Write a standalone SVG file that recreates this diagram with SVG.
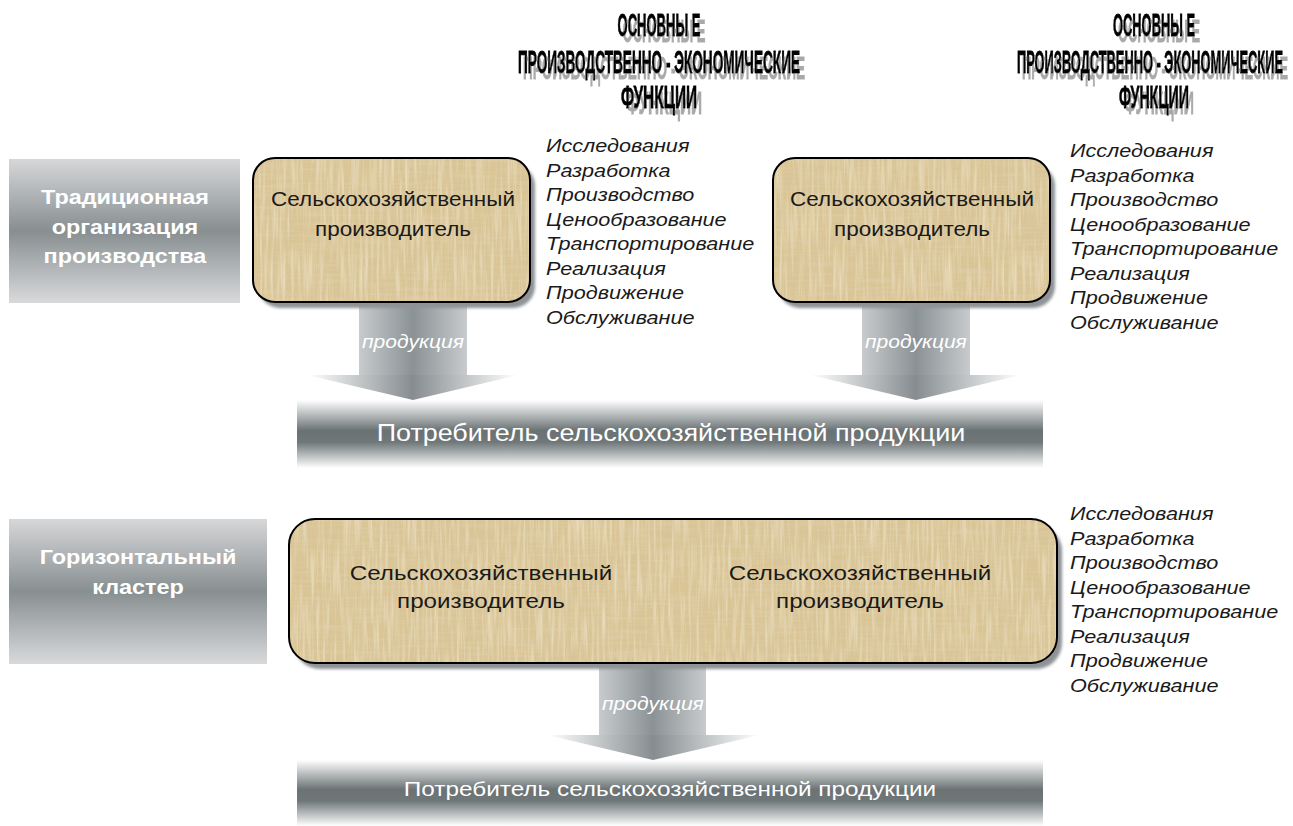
<svg xmlns="http://www.w3.org/2000/svg" width="1293" height="826" viewBox="0 0 1293 826">
  <style>
    text { font-family: "Liberation Sans", Arial, sans-serif; }
    .label { font-size: 20px; font-weight: bold; fill: #ffffff; text-anchor: middle; }
    .prod { font-size: 20px; fill: #1a1a1a; text-anchor: middle; }
    .func { font-size: 18.5px; font-style: italic; fill: #1a1a1a; }
    .flow { font-size: 18px; font-style: italic; fill: #ffffff; text-anchor: middle; }
    .cons { fill: #ffffff; text-anchor: middle; }
    .head { font-size: 32px; font-weight: bold; fill: #000000; stroke: #000000; stroke-width: 0.8; text-anchor: middle; }
    .wide { transform-box: fill-box; transform-origin: center; transform: scaleX(1.17); }
    .wide-s { transform-box: fill-box; transform-origin: center; transform: scaleX(1.125); }
    .wide-l { transform-box: fill-box; transform-origin: center; transform: scaleX(1.21); }
    .card { fill: url(#paper); stroke: #000000; stroke-width: 2; }
    .cardShadow { fill: #8f9396; filter: url(#soft); }
  </style>
  <defs>
    <linearGradient id="labelGrad" x1="0" y1="0" x2="0" y2="1">
      <stop offset="0" stop-color="#d6d7d9"/>
      <stop offset="0.5" stop-color="#888f91"/>
      <stop offset="1" stop-color="#d8d9db"/>
    </linearGradient>
    <linearGradient id="barGrad" x1="0" y1="0" x2="0" y2="1">
      <stop offset="0" stop-color="#ffffff"/>
      <stop offset="0.45" stop-color="#6a7274"/>
      <stop offset="0.62" stop-color="#6f7779"/>
      <stop offset="1" stop-color="#ffffff"/>
    </linearGradient>
    <linearGradient id="shaftGrad" x1="0" y1="0" x2="1" y2="0">
      <stop offset="0" stop-color="#c8cbcd"/>
      <stop offset="0.5" stop-color="#8b9295"/>
      <stop offset="1" stop-color="#c8cbcd"/>
    </linearGradient>
    <linearGradient id="headGrad" x1="0" y1="0" x2="1" y2="0">
      <stop offset="0" stop-color="#ffffff"/>
      <stop offset="0.5" stop-color="#868d90"/>
      <stop offset="1" stop-color="#ffffff"/>
    </linearGradient>
    <!-- woven papyrus fibres: vertical and horizontal streaks -->
    <filter id="fibresV" x="0" y="0" width="100%" height="100%">
      <feTurbulence type="fractalNoise" baseFrequency="0.35 0.02" numOctaves="2" seed="3" result="n"/>
      <feColorMatrix in="n" type="matrix" values="0 0 0 0 0.93  0 0 0 0 0.87  0 0 0 0 0.72  0 0 0 1.6 -0.7"/>
    </filter>
    <filter id="fibresH" x="0" y="0" width="100%" height="100%">
      <feTurbulence type="fractalNoise" baseFrequency="0.02 0.35" numOctaves="2" seed="11" result="n"/>
      <feColorMatrix in="n" type="matrix" values="0 0 0 0 0.74  0 0 0 0 0.65  0 0 0 0 0.45  0 0 0 1.5 -0.62"/>
    </filter>
    <pattern id="paper" patternUnits="userSpaceOnUse" width="1293" height="826">
      <rect width="1293" height="826" fill="#d9c495"/>
      <rect width="1293" height="826" filter="url(#fibresV)" opacity="0.8"/>
      <rect width="1293" height="826" filter="url(#fibresH)" opacity="0.7"/>
    </pattern>
    <filter id="soft" x="-10%" y="-10%" width="120%" height="120%">
      <feGaussianBlur stdDeviation="1.5"/>
    </filter>
    <filter id="headShadow" x="-5%" y="-20%" width="115%" height="160%">
      <feOffset in="SourceAlpha" dx="5" dy="6" result="o"/>
      <feFlood flood-color="#a9a9a9"/>
      <feComposite in2="o" operator="in" result="s"/>
      <feMerge>
        <feMergeNode in="s"/>
        <feMergeNode in="SourceGraphic"/>
      </feMerge>
    </filter>
  </defs>

  <!-- section titles -->
  <g id="title-1" filter="url(#headShadow)">
    <text class="head" x="659" y="36" textLength="83" lengthAdjust="spacingAndGlyphs">ОСНОВНЫ Е</text>
    <text class="head" x="659" y="73" textLength="282" lengthAdjust="spacingAndGlyphs">ПРОИЗВОДСТВЕННО - ЭКОНОМИЧЕСКИЕ</text>
    <text class="head" x="659" y="108" textLength="76" lengthAdjust="spacingAndGlyphs">ФУНКЦИИ</text>
  </g>
  <g id="title-2" filter="url(#headShadow)">
    <text class="head" x="1154" y="36" textLength="82" lengthAdjust="spacingAndGlyphs">ОСНОВНЫ Е</text>
    <text class="head" x="1150" y="73" textLength="266" lengthAdjust="spacingAndGlyphs">ПРОИЗВОДСТВЕННО - ЭКОНОМИЧЕСКИЕ</text>
    <text class="head" x="1154" y="108" textLength="70" lengthAdjust="spacingAndGlyphs">ФУНКЦИИ</text>
  </g>

  <!-- row labels -->
  <g id="label-traditional">
    <rect x="9" y="159" width="231" height="144" fill="url(#labelGrad)"/>
    <text class="label wide" x="125" y="204">Традиционная</text>
    <text class="label wide" x="125" y="234">организация</text>
    <text class="label wide" x="125" y="263">производства</text>
  </g>
  <g id="label-cluster">
    <rect x="9" y="519" width="258" height="145" fill="url(#labelGrad)"/>
    <text class="label wide" x="138" y="564">Горизонтальный</text>
    <text class="label wide" x="138" y="594">кластер</text>
  </g>

  <!-- product flows -->
  <g id="connectors">
    <g id="flow-1">
      <rect x="359" y="300" width="108" height="76" fill="url(#shaftGrad)"/>
      <polygon points="307,375 518,375 413,400" fill="url(#headGrad)"/>
      <text class="flow wide" x="413" y="348">продукция</text>
    </g>
    <g id="flow-2">
      <rect x="862" y="300" width="108" height="76" fill="url(#shaftGrad)"/>
      <polygon points="810,375 1021,375 916,400" fill="url(#headGrad)"/>
      <text class="flow wide" x="916" y="348">продукция</text>
    </g>
    <g id="flow-3">
      <rect x="599" y="660" width="107" height="76" fill="url(#shaftGrad)"/>
      <polygon points="547,735 760,735 653,760" fill="url(#headGrad)"/>
      <text class="flow wide" x="653" y="710">продукция</text>
    </g>
  </g>

  <!-- producers, traditional organisation -->
  <g id="producer-1">
    <rect class="cardShadow" x="258" y="164" width="277" height="144" rx="22"/>
    <rect class="card" x="253" y="158" width="277" height="144" rx="22"/>
    <text class="prod wide-s" x="393" y="206">Сельскохозяйственный</text>
    <text class="prod wide-s" x="393" y="236">производитель</text>
  </g>
  <g id="producer-2">
    <rect class="cardShadow" x="778" y="164" width="277" height="144" rx="22"/>
    <rect class="card" x="773" y="158" width="277" height="144" rx="22"/>
    <text class="prod wide-s" x="912" y="206">Сельскохозяйственный</text>
    <text class="prod wide-s" x="912" y="236">производитель</text>
  </g>

  <!-- horizontal cluster -->
  <g id="cluster">
    <rect class="cardShadow" x="294" y="525" width="768" height="144" rx="26"/>
    <rect class="card" x="289" y="519" width="768" height="144" rx="26"/>
    <text class="prod wide-l" x="481" y="580">Сельскохозяйственный</text>
    <text class="prod wide-l" x="481" y="608">производитель</text>
    <text class="prod wide-l" x="860" y="580">Сельскохозяйственный</text>
    <text class="prod wide-l" x="860" y="608">производитель</text>
  </g>

  <!-- consumers -->
  <g id="consumer-1">
    <rect x="297" y="400" width="746" height="68" fill="url(#barGrad)"/>
    <text class="cons wide" x="671" y="441" font-size="23">Потребитель сельскохозяйственной продукции</text>
  </g>
  <g id="consumer-2">
    <rect x="297" y="760" width="746" height="66" fill="url(#barGrad)"/>
    <text class="cons wide" x="670" y="796" font-size="20.8">Потребитель сельскохозяйственной продукции</text>
  </g>

  <!-- function lists -->
  <g id="functions-1" transform="translate(546 0) scale(1.17 1)">
    <text class="func" x="0" y="152">Исследования</text>
    <text class="func" x="0" y="177">Разработка</text>
    <text class="func" x="0" y="201">Производство</text>
    <text class="func" x="0" y="226">Ценообразование</text>
    <text class="func" x="0" y="250">Транспортирование</text>
    <text class="func" x="0" y="275">Реализация</text>
    <text class="func" x="0" y="299">Продвижение</text>
    <text class="func" x="0" y="324">Обслуживание</text>
  </g>
  <g id="functions-2" transform="translate(1070 0) scale(1.17 1)">
    <text class="func" x="0" y="157">Исследования</text>
    <text class="func" x="0" y="182">Разработка</text>
    <text class="func" x="0" y="206">Производство</text>
    <text class="func" x="0" y="231">Ценообразование</text>
    <text class="func" x="0" y="255">Транспортирование</text>
    <text class="func" x="0" y="280">Реализация</text>
    <text class="func" x="0" y="304">Продвижение</text>
    <text class="func" x="0" y="329">Обслуживание</text>
  </g>
  <g id="functions-3" transform="translate(1070 0) scale(1.17 1)">
    <text class="func" x="0" y="520">Исследования</text>
    <text class="func" x="0" y="545">Разработка</text>
    <text class="func" x="0" y="569">Производство</text>
    <text class="func" x="0" y="594">Ценообразование</text>
    <text class="func" x="0" y="618">Транспортирование</text>
    <text class="func" x="0" y="643">Реализация</text>
    <text class="func" x="0" y="667">Продвижение</text>
    <text class="func" x="0" y="692">Обслуживание</text>
  </g>
</svg>
